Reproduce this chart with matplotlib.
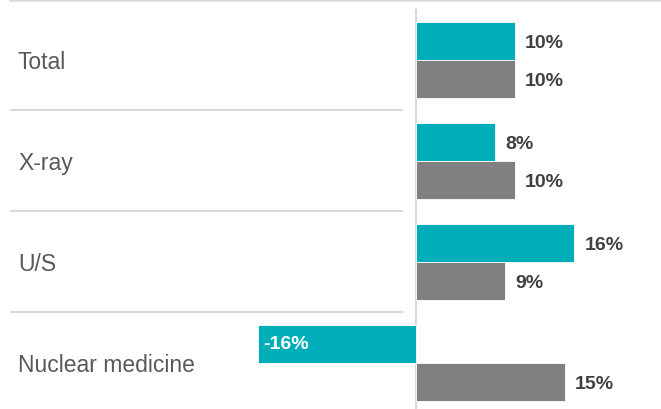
import numpy as np
import matplotlib
matplotlib.use('Agg')
import matplotlib.pyplot as plt
from matplotlib.lines import Line2D

plt.rcParams['font.family'] = ['Liberation Sans', 'DejaVu Sans']

categories = ['Total', 'X-ray', 'U/S', 'Nuclear medicine']
series_a = [10, 8, 16, -16]   # teal
series_b = [10, 10, 9, 15]    # gray

TEAL = '#00AEB9'
GRAY = '#808080'
LINE = '#D9D9D9'
LABEL_COL = '#595959'
VALUE_COL = '#404040'

W, H = 661, 410
fig = plt.figure(figsize=(W / 100, H / 100), dpi=100)

# axes spans pixel x 10..661, y 10..414 (top-down)
top_px, bot_px = 10.0, 414.0
ax = fig.add_axes([10 / W, (H - bot_px) / H, (W - 10) / W, (bot_px - top_px) / H])
x0_px = 416.0
px_per_pct = 9.9
ax.set_xlim((10 - x0_px) / px_per_pct, (W - x0_px) / px_per_pct)
ax.set_ylim(len(categories) - 0.5, -0.5)
ax.axis('off')

bar_h = 38 / 101
y = np.arange(len(categories))
ax.barh(y - bar_h / 2, series_a, height=bar_h, color=TEAL,
        edgecolor='white', linewidth=0.6, zorder=3)
ax.barh(y + bar_h / 2, series_b, height=bar_h, color=GRAY,
        edgecolor='white', linewidth=0.6, zorder=3)

# zero line
ax.axvline(0, color=LINE, lw=1.5, zorder=2)

# separators between categories on the label side
sep_left = (10 - x0_px) / px_per_pct
sep_right = (403 - x0_px) / px_per_pct
for yy in y[:-1] + 0.5:
    ax.plot([sep_left, sep_right], [yy, yy], color=LINE, lw=1.5,
            solid_capstyle='butt', zorder=1)

# category labels
lab_x = (18 - x0_px) / px_per_pct
for yi, name in zip(y, categories):
    ax.text(lab_x, yi + 0.015, name, ha='left', va='center', fontsize=16.5,
            color=LABEL_COL)

# value labels
pad = 1.0
for vals, off in ((series_a, -bar_h / 2), (series_b, bar_h / 2)):
    for yi, v in zip(y, vals):
        txt = f'{v}%'
        if v >= 0:
            ax.text(v + pad, yi + off + 0.015, txt, ha='left', va='center',
                    fontsize=14, fontweight='bold', color=VALUE_COL, zorder=4)
        else:
            ax.text(v + 0.6, yi + off, txt, ha='left', va='center',
                    fontsize=14, fontweight='bold', color='white', zorder=4)

# top rule
fig.add_artist(Line2D([10 / W, 1], [(H - 1) / H, (H - 1) / H],
                      color=LINE, lw=1.8, transform=fig.transFigure))

fig.savefig('out.png', dpi=100)
